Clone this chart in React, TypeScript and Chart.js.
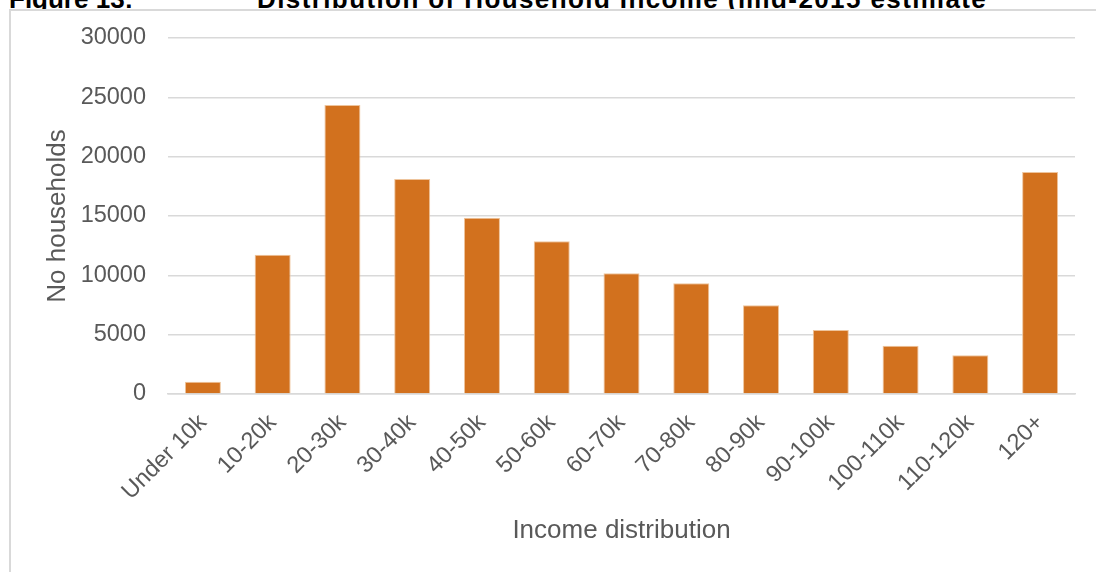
import React, { useEffect, useRef } from "react";
import { Chart, registerables } from "chart.js";

Chart.register(...registerables);

const categories = [
  "Under 10k", "10-20k", "20-30k", "30-40k", "40-50k", "50-60k", "60-70k",
  "70-80k", "80-90k", "90-100k", "100-110k", "110-120k", "120+",
];
const households = [
  1040, 11740, 24350, 18120, 14860, 12870, 10170, 9330, 7470, 5390, 4070, 3260, 18710,
];
const yTicks = [0, 5000, 10000, 15000, 20000, 25000, 30000];

const figureLabel = "Figure 13:";
const figureTitle = "Distribution of Household Income (mid-2015 estimate";
const yTitle = "No households";
const xTitle = "Income distribution";

const FONT = "'Liberation Sans', Arial, sans-serif";

export default function App() {
  const ref = useRef<HTMLCanvasElement | null>(null);

  useEffect(() => {
    if (!ref.current) return;
    const chart = new Chart(ref.current, {
      type: "bar",
      data: {
        labels: categories,
        datasets: [
          {
            label: yTitle,
            data: households,
            backgroundColor: "#D2711E",
            borderColor: "#EEC49C",
            borderWidth: 1,
            categoryPercentage: 1,
            barPercentage: 0.516,
          },
        ],
      },
      options: {
        responsive: false,
        animation: false,
        layout: { padding: { left: 42, right: 21, top: 38, bottom: 20 } },
        plugins: { legend: { display: false }, tooltip: { enabled: false } },
        scales: {
          y: {
            min: yTicks[0],
            max: yTicks[yTicks.length - 1],
            afterBuildTicks: (scale: any) => {
              scale.ticks = yTicks.map((v) => ({ value: v }));
            },
            afterFit: (scale: any) => {
              scale.width = 126;
            },
            ticks: {
              font: { family: FONT, size: 23.5 },
              color: "#595959",
              padding: 22,
              callback: (v: any) => String(v),
            },
            grid: { color: "#d9d9d9", lineWidth: 1.5, drawTicks: false },
            border: { display: false },
            title: {
              display: true,
              text: yTitle,
              font: { family: FONT, size: 26 },
              color: "#595959",
              padding: { top: 0, bottom: 0 },
            },
          },
          x: {
            afterFit: (scale: any) => {
              scale.height = 158;
            },
            ticks: {
              font: { family: FONT, size: 23.5 },
              color: "#595959",
              minRotation: 45,
              maxRotation: 45,
              autoSkip: false,
              padding: 15,
            },
            grid: { display: false, drawTicks: false },
            border: { display: true, color: "#d9d9d9", width: 1.5 },
            title: {
              display: true,
              text: xTitle,
              font: { family: FONT, size: 26 },
              color: "#595959",
              padding: { top: 0, bottom: 6 },
            },
          },
        },
      },
    });
    return () => chart.destroy();
  }, []);

  const titleStyle: React.CSSProperties = {
    position: "absolute",
    top: -14,
    fontSize: 26,
    fontWeight: "bold",
    lineHeight: 1,
    whiteSpace: "nowrap",
    color: "#000",
  };

  return (
    <div
      style={{
        position: "fixed",
        left: 0,
        top: 0,
        width: 1096,
        height: 572,
        overflow: "hidden",
        background: "#ffffff",
        fontFamily: FONT,
      }}
    >
      <span style={{ ...titleStyle, left: 9 }}>{figureLabel}</span>
      <span style={{ ...titleStyle, left: 257, letterSpacing: 1.4 }}>{figureTitle}</span>
      <div
        style={{
          position: "absolute",
          left: 9,
          top: 9,
          width: 1200,
          height: 800,
          border: "2px solid #d9d9d9",
          background: "#ffffff",
          boxSizing: "border-box",
        }}
      />
      <canvas
        ref={ref}
        width={1096}
        height={572}
        style={{ position: "absolute", left: 0, top: 0, width: 1096, height: 572 }}
      />
    </div>
  );
}
